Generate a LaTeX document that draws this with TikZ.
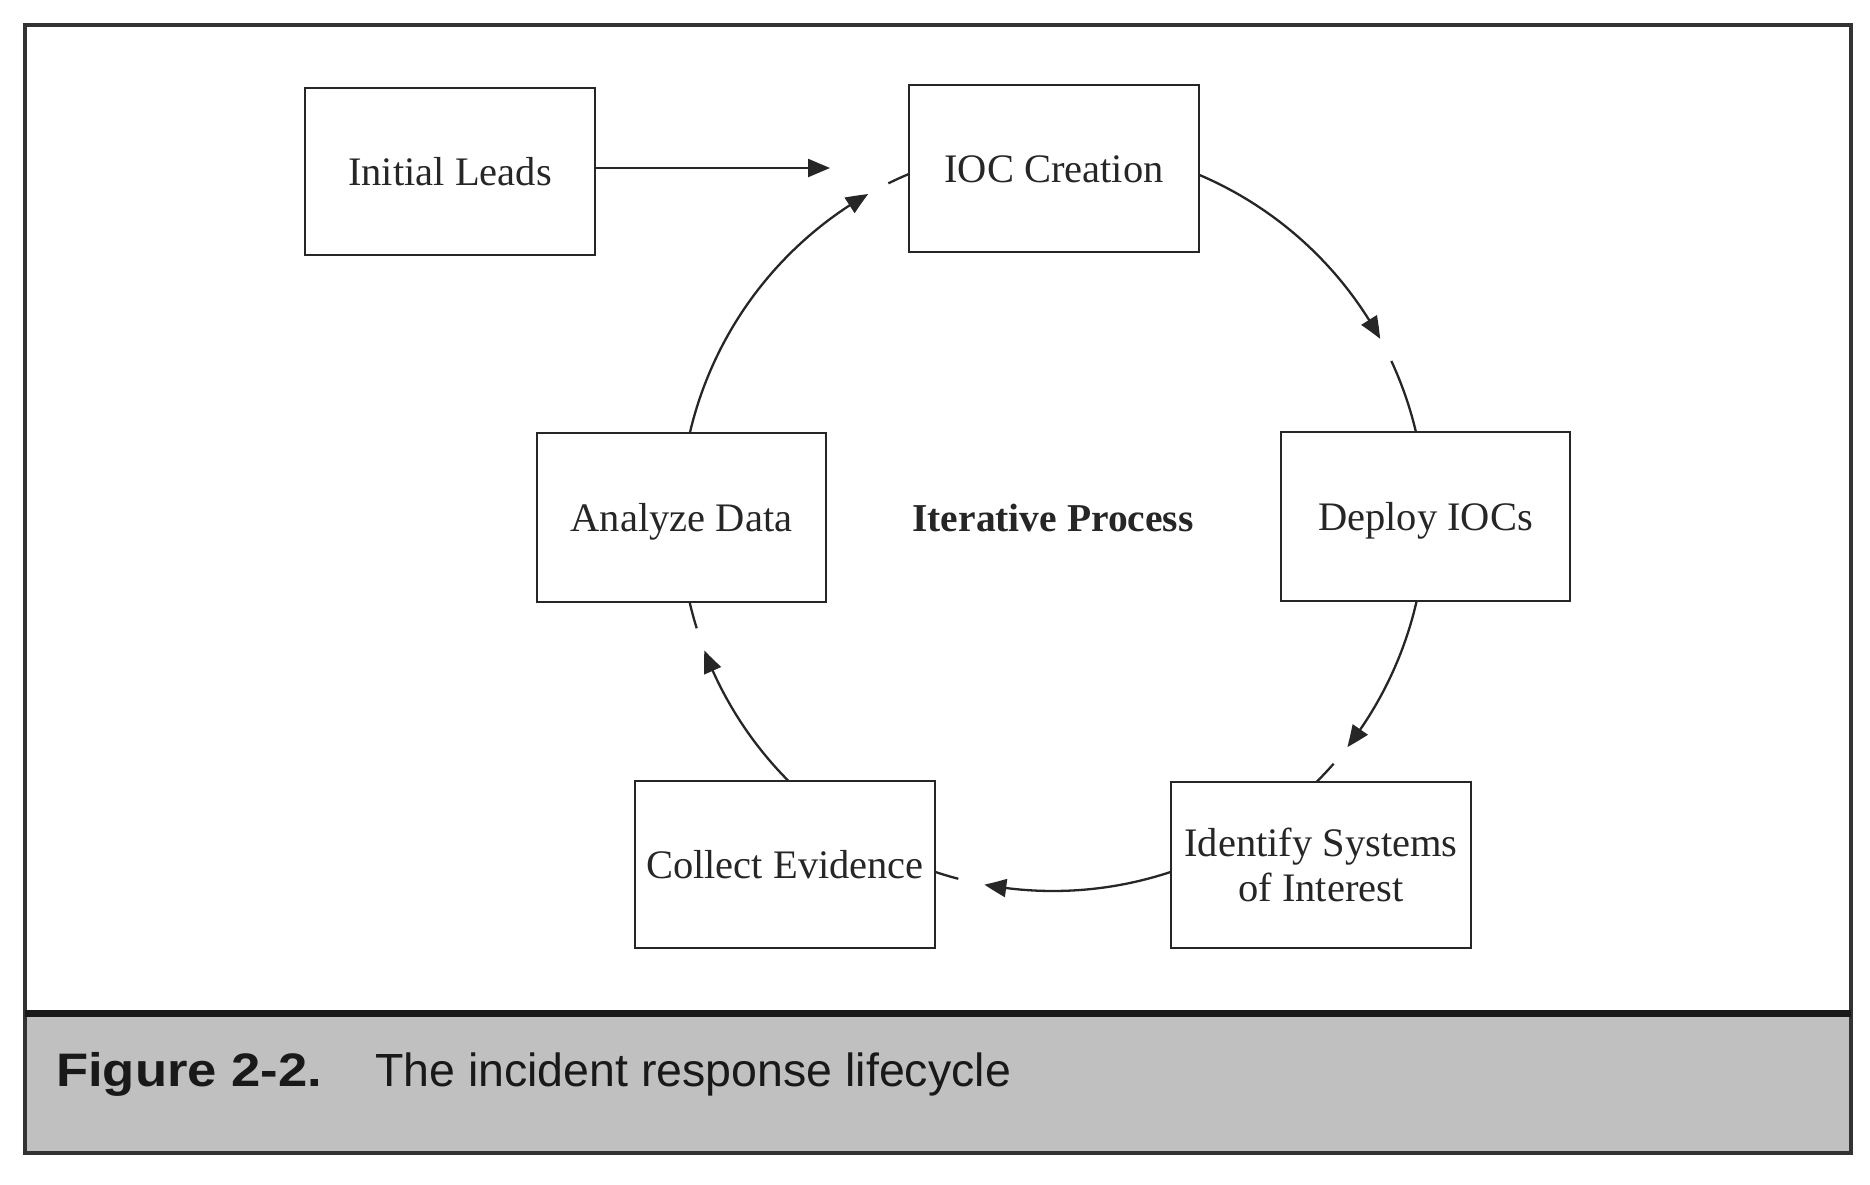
\documentclass[tikz,border=0pt]{standalone}
\usepackage{fontspec}
\setmainfont{Liberation Serif}
\setsansfont{Liberation Sans}
\usetikzlibrary{arrows.meta,bending,calc}
\definecolor{capgray}{RGB}{191,192,191}
\tikzset{
  box/.style={draw=black!85, line width=2.9pt, rectangle, inner sep=0pt, align=center,
              text=black!85, font=\fontsize{40.5}{45}\selectfont},
  oneline/.style={text height=27pt, text depth=0pt},
  link/.style={draw=black!85, line width=2.3pt},
  linkarrow/.style={link, -{Triangle[length=22pt,width=18pt,bend]}},
}
\begin{document}
\begin{tikzpicture}[x=1pt,y=-1pt]
\useasboundingbox (0,0) rectangle (1870,1184);
% frame and caption band
\fill[capgray] (24.5,1013.5) rectangle (1850.5,1152.5);
\draw[line width=4pt, black!80] (24.5,24.5) rectangle (1850.5,1152.5);
\draw[line width=7pt, black!90] (24.5,1013.5) -- (1850.5,1013.5);
\node[anchor=base west, inner sep=0pt, font=\sffamily\bfseries\fontsize{47}{50}\selectfont, text=black!90] (capnum) at (56,1086) {\scalebox{1.12}[1]{Figure 2-2.}};
\node[anchor=base west, inner sep=0pt, font=\sffamily\fontsize{46.5}{50}\selectfont, text=black!90] (captext) at (375,1086) {The incident response lifecycle};

% boxes
\node[box, oneline, minimum width=290pt, minimum height=167pt] (init) at (450,171.5) {Initial Leads};
\node[box, oneline, minimum width=290pt, minimum height=167pt] (ioc) at (1054,168.5) {IOC Creation};
\node[box, oneline, minimum width=289pt, minimum height=169pt] (analyze) at (681.5,517.5) {Analyze Data};
\node[box, oneline, minimum width=289pt, minimum height=169pt] (deploy) at (1425.5,516.5) {Deploy IOCs};
\node[box, oneline, minimum width=300pt, minimum height=167pt] (collect) at (785,864.5) {Collect Evidence};
\node[box, minimum width=300pt, minimum height=166pt] (identify) at (1321,865) {Identify Systems\\of Interest};
\node[inner sep=0pt, text=black!85, text height=27pt, text depth=0pt, font=\bfseries\fontsize{39.5}{44}\selectfont] (iter) at (1053,518) {Iterative Process};

% initial leads arrow
\coordinate (leadtip) at (830,168);
\draw[linkarrow] (init.east |- leadtip) -- (leadtip);

% cycle on a circle
\coordinate (c) at (1053,518);
\def\R{373}
\coordinate (a1) at ($(c)+(-66.96:\R)$);
\coordinate (t1) at ($(c)+(-24.9:\R)$);
\coordinate (a2) at ($(c)+(12.86:\R)$);
\coordinate (t2) at ($(c)+(41.2:\R)$);
\coordinate (a3) at ($(c)+(71.56:\R)$);
\coordinate (t3) at ($(c)+(104.7:\R)$);
\coordinate (a4) at ($(c)+(135.17:\R)$);
\coordinate (t4) at ($(c)+(162.8:\R)$);
\coordinate (a5) at ($(c)+(193.17:\R)$);
\coordinate (t5) at ($(c)+(243.8:\R)$);

\draw[linkarrow] (a1) arc[start angle=-66.96, end angle=-28.7, radius=\R];
\draw[link] (t1) arc[start angle=-24.9, end angle=-13.33, radius=\R];
\draw[linkarrow] (a2) arc[start angle=12.86, end angle=37.9, radius=\R];
\draw[link] (t2) arc[start angle=41.2, end angle=45.05, radius=\R];
\draw[linkarrow] (a3) arc[start angle=71.56, end angle=100.6, radius=\R];
\draw[link] (t3) arc[start angle=104.7, end angle=108.44, radius=\R];
\draw[linkarrow] (a4) arc[start angle=135.17, end angle=159.2, radius=\R];
\draw[link] (t4) arc[start angle=162.8, end angle=166.99, radius=\R];
\draw[linkarrow] (a5) arc[start angle=193.17, end angle=240.3, radius=\R];
\draw[link] (t5) arc[start angle=243.8, end angle=247.29, radius=\R];
\end{tikzpicture}
\end{document}
